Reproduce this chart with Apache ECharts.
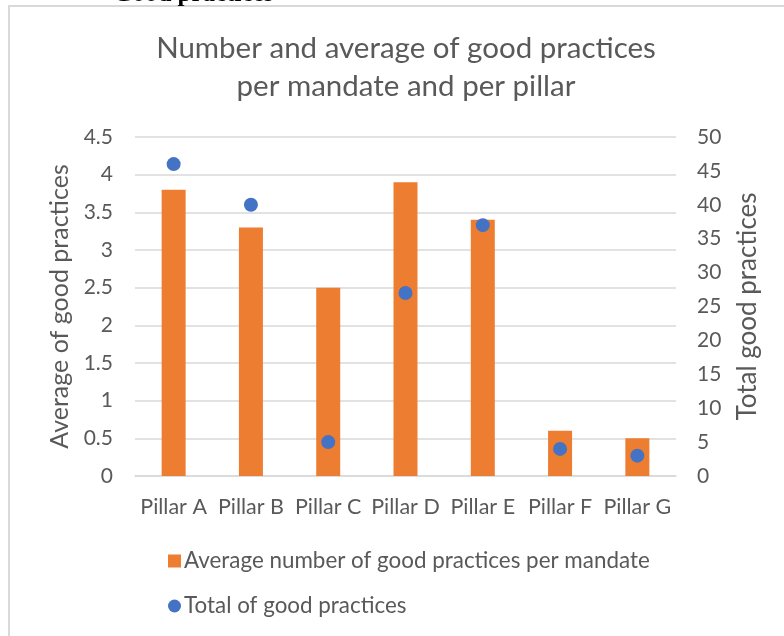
<!DOCTYPE html>
<html>
<head>
<meta charset="utf-8">
<script src="https://cdn.jsdelivr.net/npm/echarts@6/dist/echarts.min.js"></script>
<style>
  html, body { margin: 0; padding: 0; background: #fff; }
  #chart { width: 784px; height: 636px; }
</style>
</head>
<body>
<div id="chart"></div>
<script>
const categories = ['Pillar A', 'Pillar B', 'Pillar C', 'Pillar D', 'Pillar E', 'Pillar F', 'Pillar G'];
const averagePerMandate = [3.8, 3.3, 2.5, 3.9, 3.4, 0.6, 0.5];
const totalPractices = [46, 40, 5, 27, 37, 4, 3];

const textColor = '#595959';
const font = 'Lato';

const chart = echarts.init(document.getElementById('chart'));
chart.setOption({
  animation: false,
  textStyle: { fontFamily: font, color: textColor },
  title: {
    text: 'Number and average of good practices\nper mandate and per pillar',
    left: 401,
    top: 24,
    textAlign: 'center',
    textStyle: { fontFamily: font, fontWeight: 'normal', fontSize: 29.5, color: textColor, lineHeight: 38 }
  },
  grid: { left: 135, right: 108, top: 137, bottom: 160 },
  legend: {
    orient: 'vertical',
    left: 163,
    top: 545,
    itemGap: 23,
    itemWidth: 13,
    itemHeight: 13,
    textStyle: { fontFamily: font, fontSize: 22.4, color: textColor, padding: [0, 0, 0, -2] },
    data: [
      { name: 'Average number of good practices per mandate', icon: 'rect' },
      { name: 'Total of good practices', icon: 'circle' }
    ]
  },
  xAxis: {
    type: 'category',
    data: categories,
    axisLine: { lineStyle: { color: '#d9d9d9', width: 1.5 } },
    axisTick: { show: false },
    axisLabel: { fontFamily: font, fontSize: 21.5, color: textColor, margin: 20, interval: 0 }
  },
  yAxis: [
    {
      type: 'value',
      min: 0,
      max: 4.5,
      interval: 0.5,
      name: 'Average of good practices',
      nameLocation: 'middle',
      nameGap: 60,
      nameTextStyle: { fontFamily: font, fontSize: 25, color: textColor },
      axisLine: { show: false },
      axisTick: { show: false },
      axisLabel: { fontFamily: font, fontSize: 21, color: textColor, margin: 22 },
      splitLine: { lineStyle: { color: '#d9d9d9', width: 1.5 } }
    },
    {
      type: 'value',
      min: 0,
      max: 50,
      interval: 5,
      name: 'Total good practices',
      nameLocation: 'middle',
      nameGap: 59,
      nameRotate: 90,
      nameTextStyle: { fontFamily: font, fontSize: 26, color: textColor },
      axisLine: { show: false },
      axisTick: { show: false },
      axisLabel: { fontFamily: font, fontSize: 21, color: textColor, margin: 21 },
      splitLine: { show: false }
    }
  ],
  series: [
    {
      name: 'Average number of good practices per mandate',
      type: 'bar',
      yAxisIndex: 0,
      data: averagePerMandate,
      barWidth: 24,
      itemStyle: { color: '#ed7d31' }
    },
    {
      name: 'Total of good practices',
      type: 'scatter',
      yAxisIndex: 1,
      data: totalPractices,
      symbol: 'circle',
      symbolSize: 14,
      itemStyle: { color: '#4472c4', opacity: 1 },
      z: 3
    }
  ],
  graphic: [
    { type: 'line', shape: { x1: 8, y1: 6, x2: 784, y2: 6 }, style: { stroke: '#d9d9d9', lineWidth: 2 } },
    { type: 'line', shape: { x1: 9, y1: 6, x2: 9, y2: 636 }, style: { stroke: '#d9d9d9', lineWidth: 2 } },
    {
      type: 'text', left: 113, top: -17.5,
      style: { text: 'Good practices', font: 'bold 25px "Liberation Serif"', fill: '#000' }
    }
  ]
});
</script>
</body>
</html>
